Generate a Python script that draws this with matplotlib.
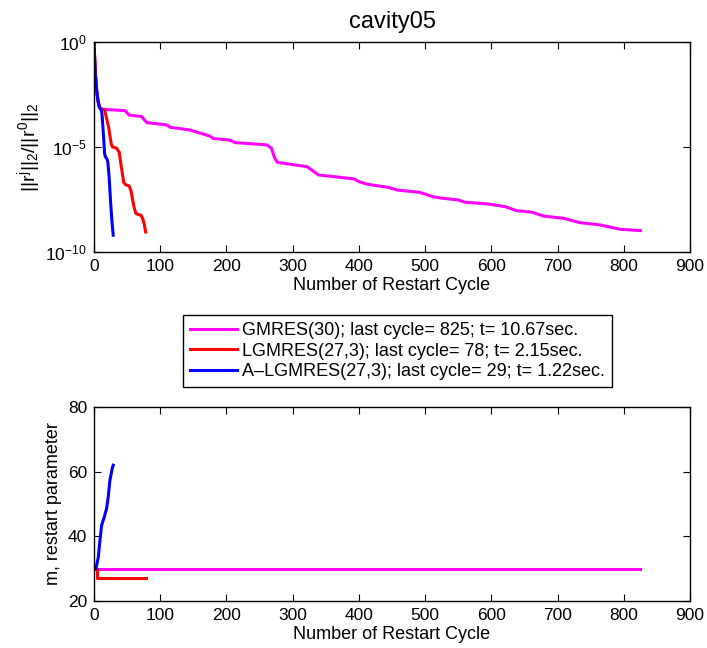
import numpy as np
import matplotlib
matplotlib.use("Agg")
import matplotlib.pyplot as plt

plt.rcParams['font.family'] = ['Liberation Sans', 'DejaVu Sans']
plt.rcParams['mathtext.fontset'] = 'custom'
plt.rcParams['mathtext.rm'] = 'Liberation Sans'
plt.rcParams['mathtext.it'] = 'Liberation Sans'
plt.rcParams['mathtext.bf'] = 'Liberation Sans'

title = "cavity05"
xlabel = "Number of Restart Cycle"
ylabel_top = r"$||r^j||_2/||r^0||_2$"
ylabel_bot = "m, restart parameter"
labels = ["GMRES(30); last cycle= 825; t= 10.67sec.",
          "LGMRES(27,3); last cycle= 78; t= 2.15sec.",
          "A\u2013LGMRES(27,3); last cycle= 29; t= 1.22sec."]
colors = ["#ff00ff", "#ff0000", "#0000ff"]

# residual history (cycle, log10 relative residual)
gm_x = [0, 2, 4, 6, 8, 10, 12, 17, 47, 53, 72, 76, 80, 110, 115, 145, 175, 180, 205, 213,
        261, 268, 273, 277, 322, 329, 339, 393, 400, 414, 444, 458, 492, 512, 526, 550,
        560, 594, 621, 638, 662, 679, 710, 733, 764, 795, 825]
gm_y = [0, -1.5, -2.3, -2.8, -3.1, -3.18, -3.2, -3.21, -3.27, -3.48, -3.55, -3.71, -3.84,
        -3.95, -4.06, -4.19, -4.48, -4.59, -4.67, -4.79, -4.9, -5.06, -5.54, -5.73, -5.94,
        -6.1, -6.33, -6.52, -6.65, -6.78, -6.92, -7.05, -7.16, -7.37, -7.44, -7.52, -7.63,
        -7.71, -7.84, -8.03, -8.11, -8.29, -8.4, -8.6, -8.71, -8.92, -8.98]
lg_x = [0, 2, 4, 6, 9, 16, 18, 22, 26, 28, 34, 38, 42, 45, 48, 53, 56, 60, 63, 67, 71, 74, 76, 78]
lg_y = [0, -1.5, -2.3, -2.8, -3.15, -3.25, -3.5, -4.05, -4.85, -5.0, -5.05, -5.25, -6.1,
        -6.7, -6.8, -6.85, -7.1, -7.8, -8.15, -8.22, -8.25, -8.45, -8.7, -9.05]
al_x = [0, 1, 2, 4, 6, 8, 11, 12, 14, 16, 17, 20, 21, 23, 25, 27, 29]
al_y = [0, -0.8, -1.5, -2.3, -2.8, -3.1, -3.25, -3.4, -4.3, -5.3, -5.45, -5.6, -5.75,
        -6.5, -7.6, -8.5, -9.2]

# restart parameter history
m_gm_x = [0, 825]
m_gm_y = [30, 30]
m_lg_x = [0, 4, 4, 78]
m_lg_y = [30, 30, 27, 27]
m_al_x = [0, 3, 6.5, 9, 11.5, 15.5, 19, 21.5, 24, 27.5, 29]
m_al_y = [30, 30, 33.6, 38.8, 43.4, 46, 48.6, 52.2, 57.3, 61, 62]

W, H = 707, 648
fig = plt.figure(figsize=(W / 100, H / 100), dpi=100)

def px_axes(l, t, r, b):
    return fig.add_axes([l / W, 1 - b / H, (r - l) / W, (b - t) / H])

ax1 = px_axes(94, 42, 690, 252)
ax2 = px_axes(94, 407, 690, 601)

lw = 2.2
h = []
for xs, ys, c in [(gm_x, gm_y, colors[0]), (lg_x, lg_y, colors[1]), (al_x, al_y, colors[2])]:
    ln, = ax1.semilogy(xs, 10.0 ** np.array(ys), color=c, lw=lw)
    h.append(ln)
ax1.set_xlim(0, 900)
ax1.set_ylim(1e-10, 1)
ax1.set_yticks([1e-10, 1e-5, 1])
ax1.yaxis.set_minor_locator(matplotlib.ticker.NullLocator())
ax1.set_xticks(np.arange(0, 901, 100))
ax1.set_title(title, fontsize=17, pad=10)
ax1.set_xlabel(xlabel, fontsize=13, labelpad=2)
ax1.set_ylabel(ylabel_top, fontsize=14, labelpad=2)

ax2.plot(m_gm_x, m_gm_y, color=colors[0], lw=lw)
ax2.plot(m_lg_x, m_lg_y, color=colors[1], lw=lw)
ax2.plot(m_al_x, m_al_y, color=colors[2], lw=lw)
ax2.set_xlim(0, 900)
ax2.set_ylim(20, 80)
ax2.set_yticks([20, 40, 60, 80])
ax2.set_xticks(np.arange(0, 901, 100))
ax2.set_xlabel(xlabel, fontsize=13, labelpad=2)
ax2.set_ylabel(ylabel_bot, fontsize=13, labelpad=4)

for ax in (ax1, ax2):
    ax.tick_params(direction='in', top=True, right=True, labelsize=12.5, length=5, width=0.8, pad=5)
    for s in ax.spines.values():
        s.set_linewidth(1.0)

leg = fig.legend(h, labels, loc='center', bbox_to_anchor=(397.5 / W, 1 - 351 / H),
                 fontsize=13, handlelength=2.6, handletextpad=0.3, labelspacing=0.2,
                 borderpad=0.4, fancybox=False, edgecolor='black', framealpha=1)
leg.get_frame().set_linewidth(1.0)

fig.savefig("out.png", dpi=100)
